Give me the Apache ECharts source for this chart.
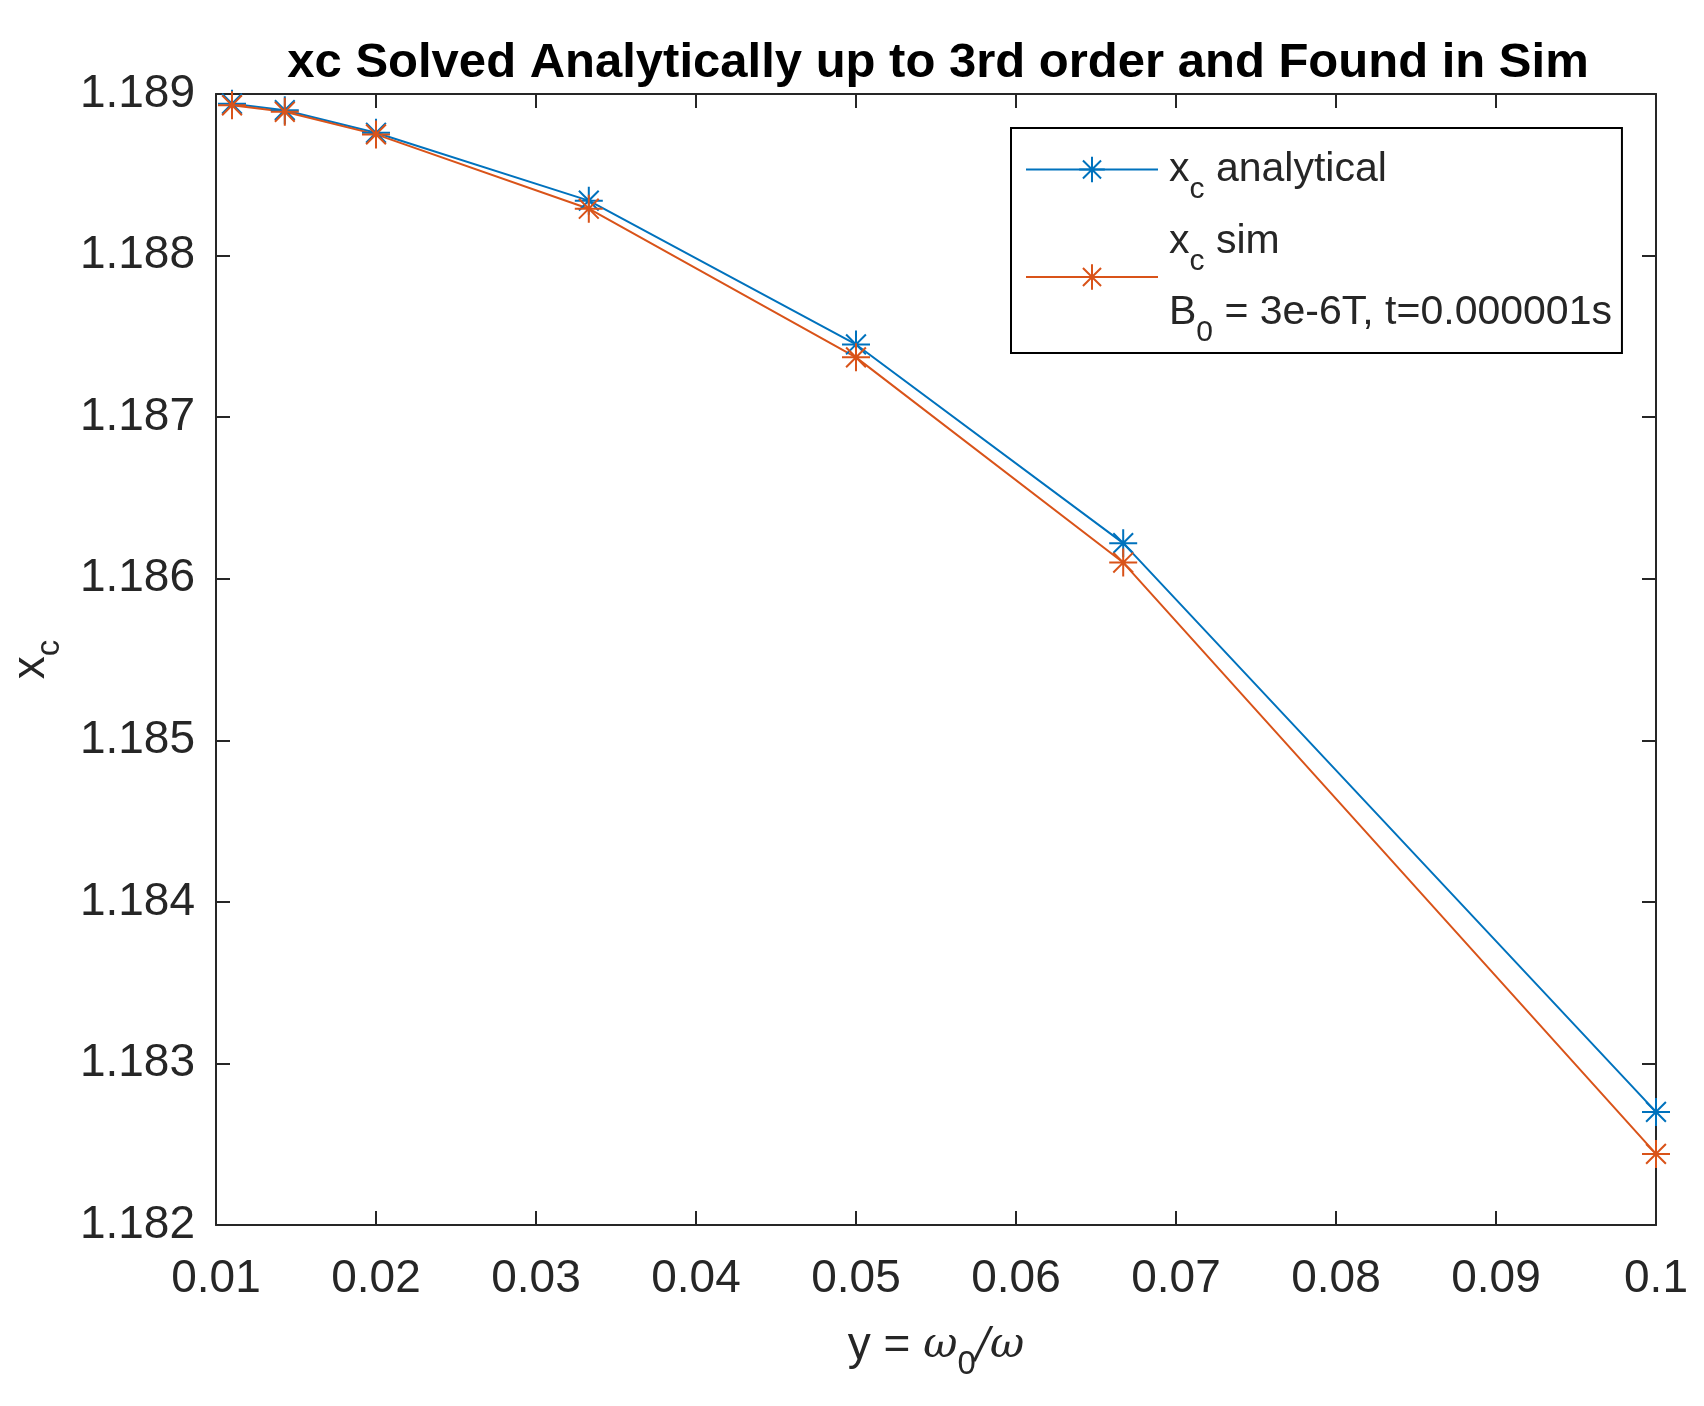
<!DOCTYPE html>
<html>
<head>
<meta charset="utf-8">
<script src="https://cdn.jsdelivr.net/npm/echarts@6/dist/echarts.min.js"></script>
<style>
  html, body { margin: 0; padding: 0; background: #fff; }
  #chart { width: 1704px; height: 1406px; }
</style>
</head>
<body>
<div id="chart"></div>
<script>
// y = w0/w values on the x axis
const yRatio = [0.0110, 0.0143, 0.02, 0.0333, 0.05, 0.0667, 0.1]
// xc from the analytical solution (3rd order)
const xcAnalytical = [1.18894, 1.18890, 1.18876, 1.18834, 1.18745, 1.18622, 1.18270]
// xc found in the simulation
const xcSim = [1.18893, 1.18889, 1.18875, 1.18829, 1.18737, 1.18610, 1.18244]

const FONT = 'Liberation Sans'
const INK = '#262626'
const BLUE = '#0072BD'
const ORANGE = '#D95319'
// matlab style '*' marker
const ASTERISK = 'path://M0,-10L0,10M-10,0L10,0M-7.07,-7.07L7.07,7.07M-7.07,7.07L7.07,-7.07'

const toPairs = (xs, ys) => xs.map((x, i) => [x, ys[i]])

// rich styles for sub-scripts (axis names)
const rich = {
  n: { fontFamily: FONT, fontSize: 46, color: INK, lineHeight: 70 },
  s: { fontFamily: FONT, fontSize: 33, color: INK, lineHeight: 30, verticalAlign: 'bottom' },
  w: { fontFamily: 'DejaVu Serif', fontStyle: 'italic', fontSize: 42, color: INK, lineHeight: 70 },
}
// legend text is a bit smaller
const legendRich = {
  f: { fontFamily: FONT, fontSize: 41, color: INK, lineHeight: 71, padding: [0, 0, 0, 6] },
  n: { fontFamily: FONT, fontSize: 41, color: INK, lineHeight: 71 },
  s: { fontFamily: FONT, fontSize: 30, color: INK, lineHeight: 30, verticalAlign: 'bottom' },
}

const chart = echarts.init(document.getElementById('chart'))

const frameAxis = {
  axisLine: { show: true, onZero: false, lineStyle: { color: INK, width: 2 } },
  axisTick: { show: true, inside: true, length: 14, lineStyle: { color: INK, width: 2 } },
  splitLine: { show: false },
}

chart.setOption({
  backgroundColor: '#fff',
  animation: false,
  title: {
    text: 'xc Solved Analytically up to 3rd order and Found in Sim',
    left: 933,
    top: 34,
    textAlign: 'center',
    textStyle: { fontFamily: FONT, fontSize: 49, fontWeight: 'bold', color: '#000' },
  },
  grid: { left: 211, right: 48, top: 94, bottom: 181 },
  legend: {
    orient: 'vertical',
    left: 1011,
    top: 128,
    padding: [21, 10, 5, 14],
    itemGap: 16,
    itemWidth: 132,
    itemHeight: 32,
    borderColor: '#000',
    borderWidth: 2,
    backgroundColor: '#fff',
    data: ['xc analytical', 'xc sim'],
    formatter: function (name) {
      if (name === 'xc analytical') return '{f|x}{s|c}{n| analytical}'
      return '{f|x}{s|c}{n| sim}\n{f|B}{s|0}{n| = 3e-6T, t=0.000001s}'
    },
    textStyle: { fontFamily: FONT, fontSize: 41, color: INK, rich: legendRich },
  },
  xAxis: [
    Object.assign({}, frameAxis, {
      type: 'value',
      min: 0.01,
      max: 0.1,
      interval: 0.01,
      position: 'bottom',
      axisLabel: {
        margin: 31,
        fontFamily: FONT,
        fontSize: 46,
        color: INK,
        formatter: (v) => String(+v.toFixed(2)),
      },
      name: '{n|y = }{w|ω}{s|0}{w|/ω}',
      nameLocation: 'middle',
      nameGap: 86,
      nameTextStyle: { rich: rich },
    }),
    Object.assign({}, frameAxis, {
      type: 'value',
      min: 0.01,
      max: 0.1,
      interval: 0.01,
      position: 'top',
      axisLabel: { show: false },
    }),
  ],
  yAxis: [
    Object.assign({}, frameAxis, {
      type: 'value',
      min: 1.182,
      max: 1.189,
      interval: 0.001,
      position: 'left',
      axisLabel: {
        margin: 21,
        fontFamily: FONT,
        fontSize: 46,
        color: INK,
        formatter: (v) => v.toFixed(3),
      },
      name: '{n|x}{s|c}',
      nameLocation: 'middle',
      nameRotate: 90,
      nameGap: 150,
      nameTextStyle: { rich: rich },
    }),
    Object.assign({}, frameAxis, {
      type: 'value',
      min: 1.182,
      max: 1.189,
      interval: 0.001,
      position: 'right',
      axisLabel: { show: false },
    }),
  ],
  series: [
    {
      name: 'xc analytical',
      type: 'line',
      data: toPairs(yRatio, xcAnalytical),
      symbol: ASTERISK,
      symbolSize: 28,
      lineStyle: { color: BLUE, width: 2 },
      itemStyle: { color: BLUE, borderColor: BLUE, borderWidth: 2 },
      clip: false,
    },
    {
      name: 'xc sim',
      type: 'line',
      data: toPairs(yRatio, xcSim),
      symbol: ASTERISK,
      symbolSize: 28,
      lineStyle: { color: ORANGE, width: 2 },
      itemStyle: { color: ORANGE, borderColor: ORANGE, borderWidth: 2 },
      clip: false,
    },
  ],
})
</script>
</body>
</html>
